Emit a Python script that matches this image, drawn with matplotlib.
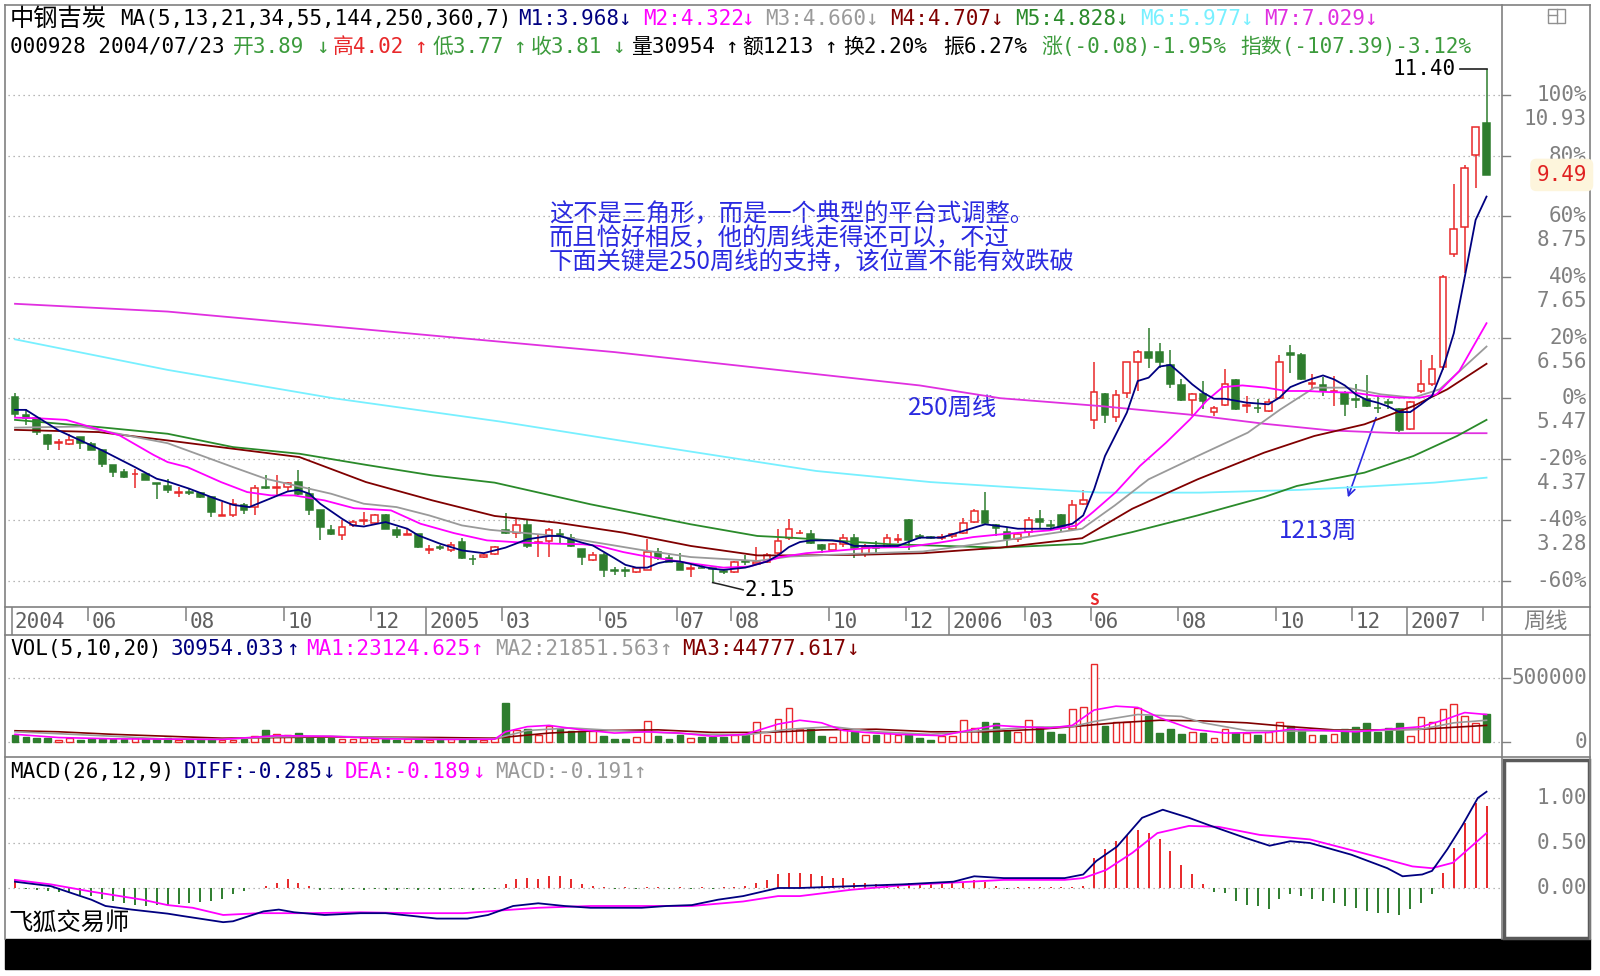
import numpy as np
import matplotlib
matplotlib.use('Agg')
import matplotlib.pyplot as plt
from matplotlib.patches import Rectangle
from matplotlib.transforms import blended_transform_factory

# weekly candles (136 weeks, 2004/04 .. 2007/02)
opens = [5.49, 5.16, 5.11, 4.81, 4.67, 4.65, 4.77, 4.65, 4.53, 4.27,
         4.14, 4.10, 4.11, 3.94, 3.89, 3.77, 3.78, 3.76, 3.69, 3.35,
         3.36, 3.54, 3.51, 3.87, 3.86, 3.87, 3.96, 3.75, 3.45, 3.10,
         3.01, 3.19, 3.26, 3.22, 3.36, 3.10, 3.01, 3.03, 2.74, 2.79,
         2.73, 2.88, 2.58, 2.61, 2.67, 3.09, 3.05, 3.18, 2.87, 2.90,
         3.02, 2.96, 2.76, 2.56, 2.64, 2.37, 2.37, 2.34, 2.38, 2.71,
         2.59, 2.51, 2.40, 2.42, 2.41, 2.35, 2.34, 2.54, 2.48, 2.53,
         2.68, 2.95, 3.04, 3.03, 2.82, 2.74, 2.85, 2.96, 2.67, 2.79,
         2.79, 2.92, 3.27, 2.98, 2.96, 2.96, 2.99, 3.05, 3.25, 3.44,
         3.19, 3.06, 2.93, 3.06, 3.30, 3.18, 3.36, 3.12, 3.57, 5.08,
         5.55, 5.14, 5.56, 6.13, 6.31, 6.31, 6.07, 5.70, 5.44, 5.54,
         5.22, 5.34, 5.79, 5.33, 5.30, 5.24, 5.48, 6.28, 6.25, 5.73,
         5.70, 5.59, 5.57, 5.45, 5.46, 5.30, 5.40, 5.27, 4.91, 5.60,
         5.72, 6.03, 8.07, 8.55, 9.84, 10.43]
highs = [5.56, 5.28, 5.11, 4.83, 4.74, 4.83, 4.78, 4.68, 4.53, 4.27,
         4.20, 4.20, 4.11, 3.94, 4.02, 3.87, 3.84, 3.78, 3.69, 3.61,
         3.66, 3.58, 3.91, 4.08, 4.08, 3.97, 4.17, 3.88, 3.45, 3.18,
         3.27, 3.27, 3.42, 3.39, 3.39, 3.15, 3.12, 3.03, 2.83, 2.82,
         2.88, 2.95, 2.64, 2.66, 2.81, 3.41, 3.29, 3.29, 3.02, 3.14,
         3.11, 3.02, 2.76, 2.71, 2.68, 2.44, 2.44, 2.44, 2.93, 2.78,
         2.65, 2.68, 2.47, 2.46, 2.42, 2.38, 2.54, 2.65, 2.80, 2.68,
         3.11, 3.29, 3.10, 3.09, 2.84, 2.87, 3.02, 3.03, 2.84, 2.90,
         3.02, 3.02, 3.29, 3.03, 2.99, 3.02, 3.05, 3.32, 3.47, 3.78,
         3.20, 3.13, 3.06, 3.33, 3.45, 3.27, 3.39, 3.64, 3.81, 6.12,
         5.57, 5.61, 6.13, 6.33, 6.73, 6.46, 6.34, 5.81, 5.57, 5.78,
         5.33, 6.00, 5.82, 5.51, 5.45, 5.45, 6.24, 6.43, 6.28, 5.90,
         5.85, 5.87, 5.60, 5.72, 5.88, 5.51, 5.45, 5.30, 5.42, 6.16,
         6.25, 7.68, 9.32, 9.66, 10.36, 11.40]
lows = [5.13, 4.98, 4.80, 4.53, 4.53, 4.62, 4.56, 4.53, 4.24, 4.06,
        4.03, 3.85, 3.99, 3.66, 3.77, 3.70, 3.72, 3.67, 3.33, 3.35,
        3.34, 3.39, 3.37, 3.84, 3.72, 3.79, 3.72, 3.37, 2.92, 3.01,
        2.92, 3.16, 3.18, 3.18, 3.12, 2.95, 3.00, 2.77, 2.67, 2.74,
        2.71, 2.58, 2.46, 2.60, 2.64, 3.02, 2.95, 2.78, 2.61, 2.61,
        2.85, 2.79, 2.46, 2.54, 2.26, 2.29, 2.26, 2.32, 2.37, 2.56,
        2.52, 2.37, 2.26, 2.41, 2.15, 2.30, 2.33, 2.47, 2.46, 2.50,
        2.64, 2.91, 3.02, 2.85, 2.68, 2.73, 2.79, 2.59, 2.61, 2.65,
        2.78, 2.87, 2.74, 2.93, 2.93, 2.91, 2.96, 3.02, 3.23, 3.21,
        2.99, 2.81, 2.89, 2.99, 3.12, 3.09, 3.06, 3.09, 3.55, 4.91,
        5.02, 5.04, 5.48, 5.60, 6.02, 6.02, 5.66, 5.42, 5.15, 5.27,
        5.15, 5.33, 5.25, 5.21, 5.21, 5.22, 5.47, 5.93, 5.80, 5.63,
        5.51, 5.33, 5.15, 5.30, 5.32, 5.21, 5.27, 4.86, 4.90, 5.57,
        5.69, 5.98, 8.02, 7.73, 9.25, 9.49]
closes = [5.19, 5.12, 4.86, 4.65, 4.68, 4.72, 4.66, 4.54, 4.29, 4.14,
          4.06, 4.11, 3.99, 3.93, 3.81, 3.78, 3.77, 3.69, 3.42, 3.36,
          3.57, 3.46, 3.85, 3.86, 3.87, 3.94, 3.75, 3.45, 3.15, 3.03,
          3.15, 3.25, 3.27, 3.36, 3.12, 3.00, 3.03, 2.79, 2.75, 2.78,
          2.83, 2.59, 2.57, 2.65, 2.80, 3.04, 3.19, 2.81, 2.88, 3.09,
          3.01, 2.81, 2.62, 2.65, 2.38, 2.36, 2.36, 2.41, 2.70, 2.59,
          2.53, 2.38, 2.41, 2.41, 2.40, 2.34, 2.52, 2.52, 2.53, 2.64,
          2.90, 3.11, 3.05, 2.87, 2.76, 2.85, 2.95, 2.78, 2.79, 2.78,
          2.96, 2.93, 2.91, 2.97, 2.955, 2.97, 3.02, 3.23, 3.44, 3.23,
          3.13, 2.94, 3.03, 3.27, 3.25, 3.17, 3.13, 3.54, 3.64, 5.58,
          5.16, 5.52, 6.12, 6.31, 6.19, 6.12, 5.73, 5.44, 5.55, 5.42,
          5.30, 5.72, 5.27, 5.34, 5.29, 5.40, 6.13, 6.24, 5.82, 5.75,
          5.60, 5.60, 5.36, 5.44, 5.33, 5.29, 5.39, 4.90, 5.40, 5.72,
          6.00, 7.66, 8.52, 9.61, 10.35, 9.49]
# weekly volume, thousands of shares
volumes_k = [53, 40, 34, 34, 18, 34, 18, 22, 25, 22,
             20, 34, 22, 20, 31, 18, 15, 20, 25, 18,
             15, 20, 45, 97, 61, 53, 71, 40, 30, 28,
             25, 22, 28, 22, 20, 18, 22, 20, 18, 20,
             20, 25, 20, 18, 30, 303, 92, 105, 53, 124,
             105, 88, 88, 88, 45, 25, 25, 40, 166, 45,
             25, 53, 34, 40, 40, 40, 53, 53, 160, 53,
             182, 267, 99, 99, 48, 40, 99, 80, 53, 53,
             72, 53, 53, 35, 13, 45, 45, 174, 107, 160,
             147, 88, 80, 174, 115, 80, 61, 259, 273, 607,
             126, 160, 160, 267, 200, 72, 99, 61, 80, 67,
             35, 99, 72, 72, 53, 80, 160, 126, 99, 53,
             53, 61, 99, 115, 147, 80, 107, 147, 45, 195,
             160, 259, 294, 200, 152, 222]
macd_hist = [0.10, -0.01, -0.02, -0.03, -0.05, -0.06, -0.08, -0.09, -0.12, -0.15,
             -0.17, -0.19, -0.20, -0.19, -0.19, -0.18, -0.17, -0.16, -0.15, -0.12,
             -0.07, -0.03, 0.00, 0.02, 0.06, 0.10, 0.05, 0.02, -0.02, -0.01,
             -0.02, -0.01, -0.02, -0.01, -0.02, -0.02, -0.01, -0.02, -0.01, -0.02,
             -0.01, -0.01, -0.02, -0.01, -0.01, 0.04, 0.10, 0.11, 0.10, 0.13,
             0.13, 0.10, 0.04, 0.02, 0.01, -0.01, 0.01, -0.01, 0.01, 0.01,
             -0.01, 0.01, -0.01, 0.01, -0.01, 0.01, 0.01, 0.02, 0.06, 0.09,
             0.15, 0.17, 0.17, 0.16, 0.13, 0.11, 0.11, 0.06, 0.06, 0.04,
             0.04, 0.04, 0.06, 0.06, 0.06, 0.06, 0.06, 0.07, 0.09, 0.07,
             0.02, -0.01, 0.01, 0.01, 0.01, 0.01, 0.01, 0.01, 0.02, 0.33,
             0.43, 0.52, 0.59, 0.65, 0.61, 0.54, 0.41, 0.25, 0.15, 0.04,
             -0.04, -0.06, -0.15, -0.19, -0.20, -0.23, -0.12, -0.07, -0.09, -0.12,
             -0.15, -0.17, -0.20, -0.22, -0.26, -0.28, -0.28, -0.30, -0.23, -0.17,
             -0.07, 0.17, 0.44, 0.72, 0.94, 0.91]

# moving averages, sampled along each line (week index, price)
ma1_x = [1, 2, 5, 9, 12, 14, 15, 17, 19, 21, 22.5, 24, 26, 27, 28, 29, 31, 32, 33, 35,
         37, 38, 40, 42, 44, 46, 48, 50, 51, 53, 54, 56, 57, 58, 59, 60, 61, 62, 64, 65,
         66, 68, 70, 71, 72, 73, 74, 76, 77, 78, 80, 82, 84, 86, 88, 90, 92, 93, 96, 98,
         99, 100, 101, 102, 103, 104, 105, 106, 107, 108, 109, 110, 111, 112, 114, 116, 117, 118, 119, 120,
         121, 122, 123, 124, 125, 126, 127, 128, 129, 130, 131, 132, 133, 134, 135, 136]
ma1_y = [5.26, 5.26, 4.89, 4.53, 4.23, 4.02, 3.97, 3.84, 3.69, 3.55, 3.51, 3.63, 3.79, 3.82, 3.75, 3.57, 3.30, 3.18, 3.16, 3.24,
         3.12, 3.00, 2.85, 2.73, 2.68, 2.78, 2.93, 2.99, 2.99, 2.87, 2.82, 2.59, 2.47, 2.42, 2.42, 2.50, 2.54, 2.53, 2.44, 2.40,
         2.38, 2.42, 2.53, 2.64, 2.79, 2.88, 2.91, 2.91, 2.88, 2.81, 2.81, 2.81, 2.96, 2.96, 3.08, 3.20, 3.15, 3.12, 3.12, 3.21,
         3.36, 3.83, 4.43, 4.82, 5.21, 5.78, 5.84, 6.04, 6.07, 5.90, 5.72, 5.57, 5.46, 5.46, 5.39, 5.36, 5.48, 5.67, 5.75, 5.82,
         5.88, 5.81, 5.70, 5.54, 5.44, 5.39, 5.32, 5.22, 5.22, 5.36, 5.51, 6.00, 6.64, 7.65, 8.68, 9.10]
ma2_x = [1, 3, 5.7, 8.5, 10.6, 13.7, 15, 16.8, 19.9, 22.3, 24.5, 26.6, 29.4, 32.1, 35.5, 38.2, 41.3, 44.3, 47.6, 50.7,
         53.1, 54.6, 56.8, 58.4, 62.9, 66, 68.4, 71.2, 73.6, 76.7, 79.7, 82.8, 85.8, 88.9, 92, 95.9, 98.4, 99.9, 102, 104.2,
         106.6, 108.8, 110.3, 111.8, 113.6, 115.8, 117.6, 119.5, 121.6, 123.8, 125.9, 128, 129.9, 131.4, 133.5, 136]
ma2_y = [5.12, 5.11, 5.08, 4.92, 4.80, 4.45, 4.32, 4.23, 3.96, 3.78, 3.72, 3.72, 3.63, 3.49, 3.45, 3.21, 3.04, 2.91, 2.87, 2.85,
         2.84, 2.81, 2.70, 2.64, 2.50, 2.42, 2.44, 2.61, 2.68, 2.73, 2.78, 2.79, 2.87, 2.97, 3.03, 3.09, 3.18, 3.42, 3.78, 4.25,
         4.67, 5.09, 5.42, 5.67, 5.70, 5.66, 5.60, 5.60, 5.58, 5.57, 5.51, 5.48, 5.48, 5.54, 5.96, 6.82]
ma3_x = [1, 7, 15, 21, 24, 30, 33, 36, 39, 42, 44.6, 50.7, 58.4, 63, 69.1, 72.1, 78.2, 84.3, 91.4, 98.9,
         101.9, 105, 109.5, 114.1, 117.1, 120.2, 123.2, 126.3, 129.3, 131.7, 136]
ma3_y = [4.94, 4.96, 4.66, 4.23, 4.02, 3.75, 3.57, 3.51, 3.36, 3.18, 3.10, 2.99, 2.74, 2.61, 2.54, 2.62, 2.67, 2.71, 2.90, 3.12,
         3.54, 4.01, 4.43, 4.85, 5.27, 5.66, 5.66, 5.54, 5.48, 5.63, 6.40]
ma4_x = [1, 8.7, 15, 21, 27.1, 33.2, 39.3, 45, 50.7, 56.8, 63, 69.1, 72.1, 78.2, 84.3, 91.4, 98.9, 103.5, 109.5, 115.6,
         120.2, 124.8, 129.3, 132.4, 136]
ma4_y = [4.90, 4.86, 4.71, 4.56, 4.41, 3.96, 3.63, 3.35, 3.23, 3.05, 2.81, 2.64, 2.64, 2.65, 2.68, 2.78, 2.95, 3.48, 4.01, 4.49,
         4.79, 5.00, 5.33, 5.63, 6.09]
ma5_x = [1, 8.7, 15, 21, 27.1, 33.2, 39.3, 45, 53.8, 63, 69.1, 72.1, 81.3, 91.4, 98.9, 103.5, 109.5, 115.6, 118.6, 124.8,
         129.3, 133.3, 136]
ma5_y = [5.08, 4.95, 4.83, 4.59, 4.47, 4.27, 4.08, 3.95, 3.56, 3.20, 2.99, 2.96, 2.84, 2.78, 2.85, 3.06, 3.36, 3.69, 3.89, 4.13,
         4.43, 4.79, 5.08]
ma6_x = [1, 15, 30.2, 45.5, 60, 74.5, 85, 91.4, 100.5, 109.7, 118.9, 125, 131.2, 136]
ma6_y = [6.53, 5.98, 5.47, 5.05, 4.60, 4.16, 3.96, 3.88, 3.77, 3.77, 3.82, 3.88, 3.95, 4.04]
ma7_x = [1, 15, 28, 56, 84, 91.4, 100.5, 109, 115.6, 121.7, 127.9, 136]
ma7_y = [7.17, 7.03, 6.80, 6.30, 5.70, 5.47, 5.33, 5.17, 5.01, 4.89, 4.84, 4.84]

# volume averages (thousands)
vma1_x = [1, 5, 10, 15, 20, 25, 30, 35, 40, 45, 46, 48, 50, 53, 56, 59, 62, 65, 68, 71,
          73, 75, 77, 79, 82, 86, 89, 91, 93, 96, 98, 100, 102, 104, 106, 109, 112, 116, 118, 121,
          124, 127, 130, 132, 134, 136]
vma1_y = [60, 35, 25, 23, 20, 50, 45, 25, 20, 22, 80, 120, 130, 95, 70, 80, 70, 45, 60, 140,
          170, 150, 90, 75, 60, 50, 100, 130, 120, 110, 130, 250, 280, 270, 190, 100, 70, 75, 100, 90,
          80, 100, 120, 170, 230, 215]
vma2_x = [1, 5, 10, 15, 20, 25, 30, 35, 40, 45, 48, 52, 56, 60, 64, 68, 72, 76, 80, 85,
          90, 94, 98, 100, 104, 108, 110, 114, 118, 122, 126, 130, 133, 136]
vma2_y = [80, 65, 45, 22, 22, 40, 45, 35, 25, 25, 90, 110, 90, 75, 60, 55, 100, 120, 80, 60,
          90, 115, 120, 160, 215, 200, 150, 90, 85, 90, 90, 100, 150, 170]
vma3_x = [1, 5, 10, 15, 20, 25, 30, 40, 45, 50, 55, 60, 65, 70, 75, 80, 85, 90, 95, 98,
          102, 106, 110, 114, 118, 122, 126, 130, 133, 136]
vma3_y = [88, 80, 60, 45, 30, 35, 40, 35, 30, 70, 90, 95, 75, 75, 95, 100, 80, 80, 100, 120,
          150, 170, 165, 150, 120, 95, 95, 100, 115, 130]

# MACD lines
dif_x = [1, 4.3, 8, 9.3, 11.7, 15, 16.3, 20.1, 21, 23.8, 25.2, 26.6, 29.4, 32.7, 35, 37.4, 39.7, 42.5, 44.4, 46.7,
         49, 51.4, 53.8, 58.5, 60.8, 63.1, 65.5, 67.8, 71, 73, 77.7, 82.4, 87.1, 89, 91.7, 97.3, 99, 100.2, 102.1, 104.4,
         106.3, 108.7, 110.5, 113.8, 116.1, 118, 119.8, 123.6, 126.9, 128.3, 130.1, 131, 132.4, 133.8, 135.2, 136]
dif_y = [0.07, 0.02, -0.13, -0.20, -0.24, -0.285, -0.31, -0.38, -0.37, -0.26, -0.24, -0.27, -0.30, -0.28, -0.28, -0.31, -0.34, -0.34, -0.30, -0.20,
         -0.17, -0.20, -0.22, -0.22, -0.20, -0.19, -0.13, -0.09, 0.00, 0.00, 0.02, 0.04, 0.07, 0.13, 0.11, 0.11, 0.15, 0.30, 0.46, 0.78,
         0.87, 0.78, 0.70, 0.56, 0.47, 0.52, 0.50, 0.37, 0.22, 0.13, 0.15, 0.19, 0.43, 0.70, 1.00, 1.07]
dea_x = [1, 4.3, 8, 12.7, 15, 17.3, 20.1, 23.4, 28.1, 32.7, 37.4, 42.1, 44.4, 49, 53.8, 58.5, 63.1, 67.8, 71, 73,
         77.7, 82.4, 87.1, 91.7, 97.3, 99, 101.1, 103.5, 105.8, 108.7, 111.4, 115.2, 119.8, 124.6, 129.2, 131, 132.9, 136]
dea_y = [0.09, 0.04, -0.04, -0.13, -0.19, -0.22, -0.30, -0.28, -0.28, -0.27, -0.28, -0.28, -0.26, -0.22, -0.20, -0.20, -0.20, -0.15, -0.09, -0.09,
         -0.02, 0.03, 0.06, 0.09, 0.09, 0.11, 0.20, 0.39, 0.61, 0.69, 0.68, 0.59, 0.54, 0.39, 0.24, 0.22, 0.28, 0.61]

# x axis labels (week index of each month/year mark)
tick_pos = [1, 8, 17, 26, 34, 39, 46, 55, 62, 67, 76, 83, 87, 94, 100, 108, 117, 124, 129, 136]
tick_lab = ['2004', '06', '08', '10', '12', '2005', '03', '05', '07', '08',
            '10', '12', '2006', '03', '06', '08', '10', '12', '2007', '']
P0 = 5.465
pct_levels = [100, 80, 60, 40, 20, 0, -20, -40, -60]
price_ticks = ['10.93', '9.84', '8.75', '7.65', '6.56', '5.47', '4.37', '3.28', '']

# ---------------- style ----------------
RED = '#e8282a'
GREEN = '#2e7d2e'
NAVY = '#000080'
MAGENTA = '#ff00ff'
GREY = '#9a9a9a'
DARKRED = '#800000'
MGREEN = '#2a8a2a'
CYAN = '#78f0ff'
VIOLET = '#e030e0'
BLUE = '#2a2ae0'
AXGREY = '#808080'
TGREEN = '#3c9b3c'

CJK = ['Noto Sans CJK SC', 'DejaVu Sans']
MONO = ['DejaVu Sans Mono', 'Noto Sans CJK SC']
plt.rcParams['font.family'] = CJK
plt.rcParams['axes.unicode_minus'] = False

W, H = 1600, 976
fig = plt.figure(figsize=(W / 100, H / 100), dpi=100)
fig.patch.set_facecolor('white')
bg = fig.add_axes([0, 0, 1, 1])
bg.set_xlim(0, W)
bg.set_ylim(H, 0)
bg.axis('off')

XL = (0.358, 137.42)


def panel(x0, y0, x1, y1, ylim):
    a = fig.add_axes([x0 / W, 1 - y1 / H, (x1 - x0) / W, (y1 - y0) / H])
    a.set_xlim(*XL)
    a.set_ylim(*ylim)
    a.axis('off')
    return a


ax_p = panel(8, 58, 1502, 607, (1.711, 11.595))
ax_x = panel(8, 607, 1502, 635, (0, 1))
ax_v = panel(8, 635, 1502, 757, (-117000, 836000))
ax_m = panel(8, 757, 1502, 939, (-0.567, 1.456))

xs = np.arange(1, len(closes) + 1)
BW = 0.62
DOT = (0, (1, 3))
FS = 15

# ---------------- frame ----------------
for y in (5, 607, 635, 757):
    bg.plot([5, 1590], [y, y], color=AXGREY, lw=1.2)
for x in (5, 1502, 1590):
    bg.plot([x, x], [5, 939], color=AXGREY, lw=1.2)
bg.add_patch(Rectangle((5, 939), 1585, 30, color='black'))
bg.add_patch(Rectangle((1504, 760), 85, 178, fill=False, ec='#5a5a5a', lw=2.5))
bg.add_patch(Rectangle((1548, 9), 17, 14, fill=False, ec='#909090', lw=1))
bg.plot([1557, 1557], [9, 23], color='#909090', lw=1)
bg.plot([1548, 1557], [15, 15], color='#909090', lw=1)

# ---------------- price panel ----------------
tr_p = blended_transform_factory(bg.transData, ax_p.transData)
for p, lab in zip(pct_levels, price_ticks):
    y = P0 * (1 + p / 100)
    ax_p.axhline(y, color='#a0a0a0', lw=0.9, ls=DOT, zorder=0)
    ax_p.plot([1502, 1510], [y, y], transform=tr_p, color=AXGREY, lw=1, clip_on=False)
    ax_p.text(1587, y, f'{p}%', transform=tr_p, ha='right', va='center',
              color=AXGREY, fontsize=FS, family=MONO, clip_on=False)
    if lab:
        ax_p.annotate(lab, xy=(1587, y), xycoords=tr_p, xytext=(0, -24),
                      textcoords='offset pixels', ha='right', va='center',
                      color=AXGREY, fontsize=FS, family=MONO, annotation_clip=False)
ax_p.text(1587, closes[-1], f'{closes[-1]:.2f}', transform=tr_p, ha='right', va='center',
          color='#e02020', fontsize=FS, family=MONO, clip_on=False,
          bbox=dict(boxstyle='round,pad=0.3', fc='#fdf5dc', ec='none'))

for x, o, h, l, c in zip(xs, opens, highs, lows, closes):
    up = c >= o
    col = RED if up else GREEN
    top, bot = max(o, c), min(o, c)
    ax_p.vlines(x, top, h, color=col, lw=1.1, zorder=2)
    ax_p.vlines(x, l, bot, color=col, lw=1.1, zorder=2)
    ax_p.add_patch(Rectangle((x - BW / 2, bot), BW, max(top - bot, 0.012),
                             fc='white' if up else col, ec=col, lw=1.1, zorder=2))

for mx, my, col in [(ma7_x, ma7_y, VIOLET), (ma6_x, ma6_y, CYAN), (ma5_x, ma5_y, MGREEN),
                    (ma4_x, ma4_y, DARKRED), (ma3_x, ma3_y, GREY), (ma2_x, ma2_y, MAGENTA),
                    (ma1_x, ma1_y, NAVY)]:
    ax_p.plot(mx, my, color=col, lw=1.3, zorder=3)

# high / low marks
ax_p.plot([xs[-1] - 2.4, xs[-1]], [highs[-1], highs[-1]], color='#202020', lw=1.2, zorder=4)
ax_p.text(xs[-1] - 2.8, highs[-1], f'{highs[-1]:.2f}', ha='right', va='center',
          fontsize=FS, family=MONO, zorder=4)
i_low = int(np.argmin(lows))
ax_p.plot([xs[i_low], xs[i_low] + 0.7, xs[i_low] + 2.8],
          [lows[i_low], lows[i_low] - 0.03, lows[i_low] - 0.13],
          color='#202020', lw=1.1, zorder=4)
ax_p.text(xs[i_low] + 2.9, lows[i_low] - 0.13, f'{lows[i_low]:.2f}', ha='left', va='center',
          fontsize=FS, family=MONO, zorder=4)
ax_p.text(100, 1.83, 'S', ha='center', va='center', color=RED, fontsize=11, fontweight='bold')
ax_p.vlines(100, 1.93, 1.97, color=RED, lw=1.2)

# ---------------- x labels ----------------
for x, lab in zip(tick_pos, tick_lab):
    ax_x.vlines(x - 0.3, 0.0 if len(lab) == 4 else 0.5, 1.0, color=AXGREY, lw=1.1)
    ax_x.text(x, 0.45, lab, ha='left', va='center', color='#606060', fontsize=FS, family=MONO)
bg.text(1546, 621, '周线', ha='center', va='center', color=AXGREY, fontsize=16)

# ---------------- volume ----------------
tr_v = blended_transform_factory(bg.transData, ax_v.transData)
vols = np.array(volumes_k) * 1000
for yv in (0, 500000):
    ax_v.axhline(yv, color='#a0a0a0', lw=0.9, ls=DOT, zorder=0)
    ax_v.plot([1502, 1510], [yv, yv], transform=tr_v, color=AXGREY, lw=1, clip_on=False)
    ax_v.text(1587, yv, str(yv), transform=tr_v, ha='right', va='center',
              color=AXGREY, fontsize=FS, family=MONO, clip_on=False)
for x, v, o, c in zip(xs, vols, opens, closes):
    up = c >= o
    col = RED if up else GREEN
    ax_v.add_patch(Rectangle((x - BW / 2, 0), BW, v, fc='white' if up else col, ec=col, lw=1.0, zorder=2))
for vx, vy, col in [(vma3_x, vma3_y, DARKRED), (vma2_x, vma2_y, GREY), (vma1_x, vma1_y, MAGENTA)]:
    ax_v.plot(vx, np.array(vy) * 1000, color=col, lw=1.2, zorder=3)

# ---------------- MACD ----------------
tr_m = blended_transform_factory(bg.transData, ax_m.transData)
for ym in (0.0, 0.5, 1.0):
    ax_m.axhline(ym, color='#a0a0a0', lw=0.9, ls=DOT, zorder=0)
    ax_m.text(1587, ym, f'{ym:.2f}', transform=tr_m, ha='right', va='center',
              color=AXGREY, fontsize=FS, family=MONO, clip_on=False)
hist = np.array(macd_hist)
ax_m.vlines(xs, 0, hist, colors=[RED if h > 0 else GREEN for h in hist], lw=1.4, zorder=2)
ax_m.plot(dea_x, dea_y, color=MAGENTA, lw=1.3, zorder=3)
ax_m.plot(dif_x, dif_y, color=NAVY, lw=1.3, zorder=3)


# ---------------- header texts ----------------
def seg(x, y, s, c, fs=FS, fam=MONO):
    bg.text(x, y, s, color=c, fontsize=fs, family=fam, ha='left', va='center')


row1 = [(120, 'MA(5,13,21,34,55,144,250,360,7)', 'black'),
        (518, 'M1:3.968', NAVY), (618, '↓', NAVY), (643, 'M2:4.322', MAGENTA), (741, '↓', MAGENTA),
        (765, 'M3:4.660', GREY), (865, '↓', GREY), (890, 'M4:4.707', DARKRED), (990, '↓', DARKRED),
        (1015, 'M5:4.828', MGREEN), (1115, '↓', MGREEN), (1140, 'M6:5.977', CYAN), (1240, '↓', CYAN),
        (1264, 'M7:7.029', VIOLET), (1364, '↓', VIOLET)]
row2 = [(10, '000928 2004/07/23', 'black'), (233, '开3.89', TGREEN), (316, '↓', TGREEN),
        (333, '高4.02', RED), (414, '↑', RED), (433, '低3.77', TGREEN), (513, '↑', TGREEN),
        (531, '收3.81', TGREEN), (612, '↓', TGREEN), (631, '量30954', 'black'), (725, '↑', 'black'),
        (742, '额1213', 'black'), (824, '↑', 'black'), (843, '换2.20%', 'black'), (943, '振6.27%', 'black'),
        (1041, '涨(-0.08)-1.95%', TGREEN), (1240, '指数(-107.39)-3.12%', TGREEN)]
row_vol = [(10, 'VOL(5,10,20)', 'black'), (171, '30954.033', NAVY), (286, '↑', NAVY),
           (306, 'MA1:23124.625', MAGENTA), (470, '↑', MAGENTA), (495, 'MA2:21851.563', GREY),
           (659, '↑', GREY), (682, 'MA3:44777.617', DARKRED), (846, '↓', DARKRED)]
row_macd = [(10, 'MACD(26,12,9)', 'black'), (184, 'DIFF:-0.285', NAVY), (322, '↓', NAVY),
            (345, 'DEA:-0.189', MAGENTA), (472, '↓', MAGENTA), (495, 'MACD:-0.191', GREY), (633, '↑', GREY)]
for y, row in [(19, row1), (47, row2), (649, row_vol), (772, row_macd)]:
    for x, s, c in row:
        seg(x, y, s, c)
seg(10, 19, '中钢吉炭', 'black', 17.5, CJK)
seg(8, 923, '飞狐交易师', 'black', 17.5, CJK)

# ---------------- annotations ----------------
notes = ['这不是三角形，而是一个典型的平台式调整。',
         '而且恰好相反，他的周线走得还可以，不过',
         '下面关键是250周线的支持，该位置不能有效跌破']
for k, s in enumerate(notes):
    seg(549, 214 + 24 * k, s, BLUE, 17.5, CJK)
seg(908, 408, '250周线', BLUE, 17.5, CJK)
seg(1279, 531, '1213周', BLUE, 17.5, CJK)
bg.annotate('', xy=(1347, 500), xytext=(1377, 415),
            arrowprops=dict(arrowstyle='->', color=BLUE, lw=1.2, mutation_scale=14))

fig.savefig('out.png', dpi=100, facecolor='white')
